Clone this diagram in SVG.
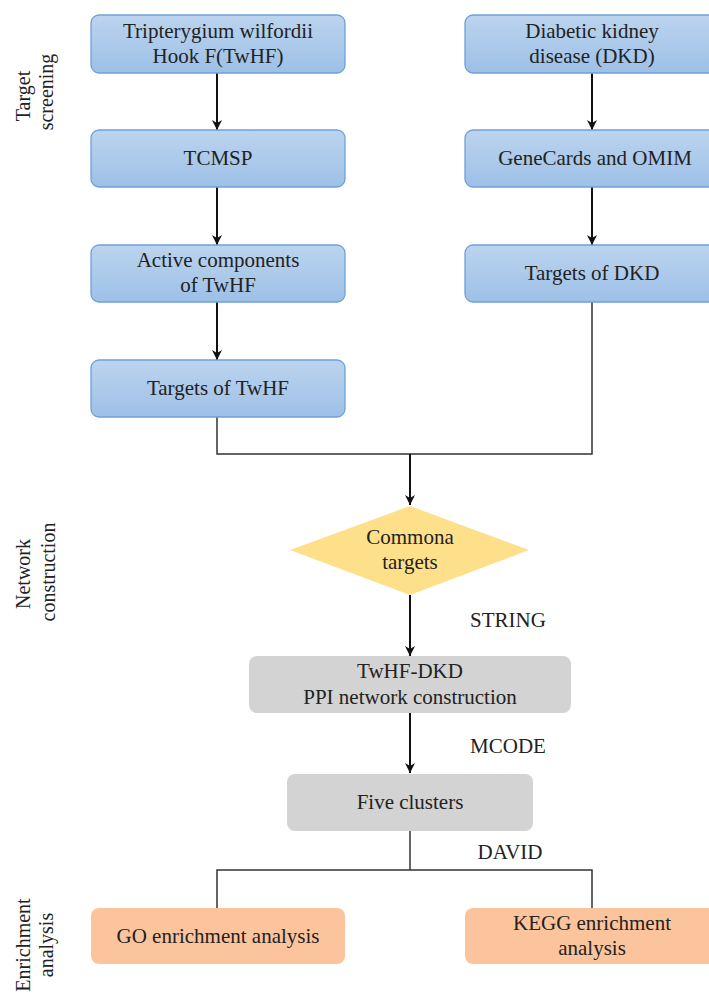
<svg xmlns="http://www.w3.org/2000/svg" width="709" height="995" viewBox="0 0 709 995">
<defs>
<linearGradient id="blue" x1="0" y1="0" x2="0" y2="1">
<stop offset="0" stop-color="#bcd4ee"/>
<stop offset="1" stop-color="#9dc0e7"/>
</linearGradient>
<marker id="arr" viewBox="0 0 10 10" refX="10" refY="5" markerWidth="10" markerHeight="10" markerUnits="userSpaceOnUse" orient="auto">
<path d="M0,0 L10,5 L0,10 L3,5 Z" fill="#111"/>
</marker>
</defs>
<style>
text{font-size:21px;fill:#222;text-anchor:middle}
.s{font-size:20px}
.b{fill:url(#blue);stroke:#6fa0d8;stroke-width:1.3}
.g{fill:#d3d3d3}
.o{fill:#fcc49c}
.y{fill:#fedf8a}
.a{stroke:#111;stroke-width:2;fill:none;marker-end:url(#arr)}
.l{stroke:#333;stroke-width:1.5;fill:none}
</style>
<g font-family="'Liberation Serif', 'DejaVu Serif', serif">
<g id="connectors">
<line class="a" x1="217" y1="73" x2="217" y2="130"/>
<line class="a" x1="217" y1="187" x2="217" y2="245"/>
<line class="a" x1="217" y1="302" x2="217" y2="360"/>
<line class="a" x1="592" y1="73" x2="592" y2="130"/>
<line class="a" x1="592" y1="187" x2="592" y2="245"/>
<polyline class="l" points="217,417 217,454 592,454 592,302"/>
<line class="a" x1="410" y1="454" x2="410" y2="505"/>
<line class="a" x1="410" y1="595" x2="410" y2="656"/>
<line class="a" x1="410" y1="713" x2="410" y2="773"/>
<polyline class="l" points="410,831 410,870"/>
<polyline class="l" points="217,908 217,870 592,870 592,908"/>
</g>
<g id="labels">
<text x="508" y="627">STRING</text>
<text x="508" y="753">MCODE</text>
<text x="510" y="859">DAVID</text>
</g>
<g id="side-target">
<text class="s" transform="translate(30,96) rotate(-90)">Target</text>
<text class="s" transform="translate(53,92) rotate(-90)">screening</text>
</g>
<g id="side-network">
<text class="s" transform="translate(30,574) rotate(-90)">Network</text>
<text class="s" transform="translate(55,572) rotate(-90)">construction</text>
</g>
<g id="side-enrich">
<text class="s" transform="translate(30,945) rotate(-90)">Enrichment</text>
<text class="s" transform="translate(53,945) rotate(-90)">analysis</text>
</g>
<g id="twhf">
<rect class="b" x="91" y="15" width="254" height="58" rx="8"/>
<text x="218" y="38">Tripterygium wilfordii</text>
<text x="218" y="63">Hook F(TwHF)</text>
</g>
<g id="tcmsp">
<rect class="b" x="91" y="130" width="254" height="57" rx="8"/>
<text x="218" y="165">TCMSP</text>
</g>
<g id="active">
<rect class="b" x="91" y="245" width="254" height="57" rx="8"/>
<text x="218" y="267">Active components</text>
<text x="218" y="292">of TwHF</text>
</g>
<g id="targets-twhf">
<rect class="b" x="91" y="360" width="254" height="57" rx="8"/>
<text x="218" y="395">Targets of TwHF</text>
</g>
<g id="dkd">
<rect class="b" x="465" y="15" width="254" height="58" rx="8"/>
<text x="592" y="38">Diabetic kidney</text>
<text x="592" y="63">disease (DKD)</text>
</g>
<g id="genecards">
<rect class="b" x="465" y="130" width="254" height="57" rx="8"/>
<text x="595" y="165">GeneCards and OMIM</text>
</g>
<g id="targets-dkd">
<rect class="b" x="465" y="245" width="254" height="57" rx="8"/>
<text x="592" y="280">Targets of DKD</text>
</g>
<g id="common">
<polygon class="y" points="410,506 529,550 410,595 290,550"/>
<text x="410" y="544">Commona</text>
<text x="410" y="569">targets</text>
</g>
<g id="ppi">
<rect class="g" x="249" y="656" width="322" height="57" rx="8"/>
<text x="410" y="678">TwHF-DKD</text>
<text x="410" y="704">PPI network construction</text>
</g>
<g id="clusters">
<rect class="g" x="287" y="774" width="246" height="57" rx="8"/>
<text x="410" y="809">Five clusters</text>
</g>
<g id="go">
<rect class="o" x="91" y="908" width="254" height="56" rx="8"/>
<text x="218" y="943">GO enrichment analysis</text>
</g>
<g id="kegg">
<rect class="o" x="465" y="908" width="254" height="56" rx="8"/>
<text x="592" y="930">KEGG enrichment</text>
<text x="592" y="955">analysis</text>
</g>
</g>
</svg>
